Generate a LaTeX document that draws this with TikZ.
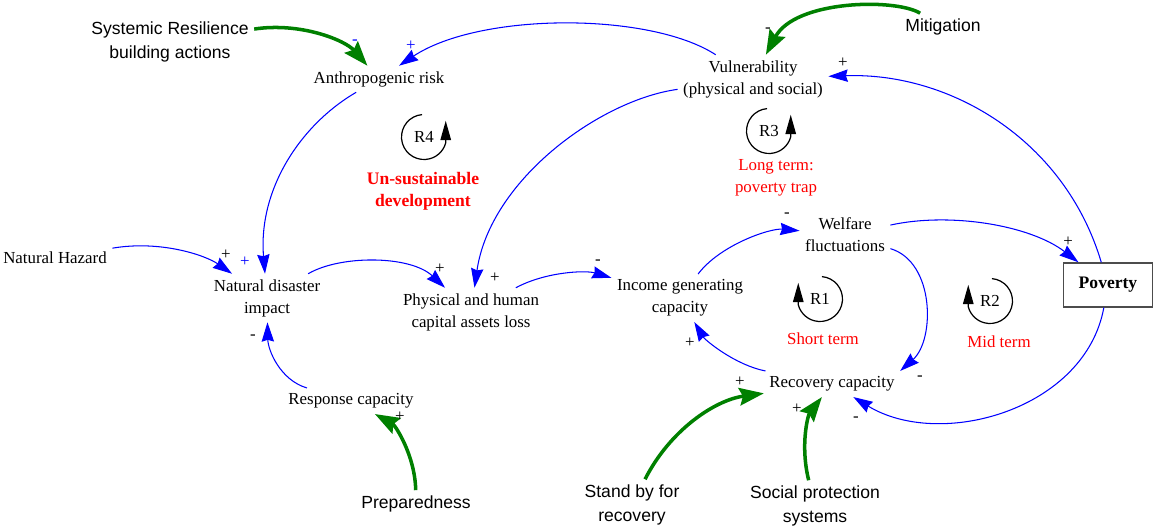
\documentclass[tikz,border=0pt]{standalone}
\usepackage{fontspec}
\setmainfont{Liberation Serif}
\newfontfamily\arialfont{Liberation Sans}
\usetikzlibrary{arrows.meta}

\tikzset{
  var/.style={align=center, inner sep=3pt, font=\fontsize{9.6}{12.5}\selectfont},
  act/.style={align=center, inner sep=3pt, font=\arialfont\fontsize{10}{13.6}\selectfont},
  lnk/.style={blue, line width=0.6pt, -{Stealth[length=11pt,width=7pt,inset=1pt]}},
  pol/.style={green!50!black, line width=2pt, -{Stealth[length=14pt,width=10pt,inset=2pt]}},
  sgn/.style={inner sep=0pt, font=\fontsize{9.6}{10}\selectfont},
  rlabel/.style={inner sep=0pt, font=\fontsize{9.6}{12}\selectfont},
  rturn/.style={line width=0.7pt, -{Triangle[length=11pt,width=6pt]}},
  capt/.style={red, align=center, font=\fontsize{9.6}{12.5}\selectfont},
}

\begin{document}
\begin{tikzpicture}[x=0.02cm, y=-0.02cm]
\useasboundingbox (0,0) rectangle (1154,529);

% variables
\node[act] (sys) at (170,42) {Systemic Resilience\\building actions};
\node[var] (anthro) at (379,79) {Anthropogenic risk};
\node[var] (vul) at (753,79) {Vulnerability\\(physical and social)};
\node[act] (miti) at (943,27) {Mitigation};
\node[var] (haz) at (55,258) {Natural Hazard};
\node[var] (ndi) at (267,298) {Natural disaster\\impact};
\node[var] (phys) at (471,312) {Physical and human\\capital assets loss};
\node[var] (inc) at (680,298) {Income generating\\capacity};
\node[var] (wel) at (845,235) {Welfare\\fluctuations};
\node[draw=black!70, line width=0.8pt, minimum width=1.78cm, minimum height=0.88cm,
      font=\bfseries\fontsize{10}{12}\selectfont] (pov) at (1108,285) {Poverty};
\node[var] (resp) at (351,401) {Response capacity};
\node[act] (prep) at (416,504) {Preparedness};
\node[var] (rec) at (832,384) {Recovery capacity};
\node[act] (stby) at (632,505) {Stand by for\\recovery};
\node[act] (soc) at (815,506) {Social protection\\systems};

% causal links
\draw[lnk] (vul) .. controls (650,12) and (480,12) .. (anthro);
\draw[lnk] (vul) .. controls (600,100) and (490,180) .. (phys);
\draw[lnk] (anthro) .. controls (300,125) and (258,190) .. (ndi);
\draw[lnk] (haz) .. controls (160,240) and (205,255) .. (ndi);
\draw[lnk] (ndi) .. controls (340,255) and (410,255) .. (phys);
\draw[lnk] (resp) .. controls (280,380) and (268,350) .. (ndi);
\draw[lnk] (phys) .. controls (545,272) and (585,270) .. (inc);
\draw[lnk] (inc) .. controls (720,245) and (770,228) .. (wel);
\draw[lnk] (wel) .. controls (950,212) and (1030,225) .. (pov);
\draw[lnk] (wel) .. controls (935,262) and (935,340) .. (rec.north east);
\draw[lnk] (pov) .. controls (1085,410) and (940,450) .. (rec);
\draw[lnk] (rec) .. controls (735,365) and (705,340) .. (inc);
\draw[lnk] (pov) .. controls (1065,140) and (950,72) .. (vul);

% policies
\draw[pol] (sys) .. controls (300,22) and (345,40) .. (anthro);
\draw[pol] (miti) .. controls (895,-2) and (795,0) .. (vul);
\draw[pol] (prep) .. controls (415,455) and (395,425) .. (resp);
\draw[pol] (stby) .. controls (670,430) and (715,400) .. (rec);
\draw[pol] (soc) .. controls (800,445) and (808,415) .. (rec);

% polarities
\foreach \n/\x/\y/\s/\c in {a/355/42/-/blue, b/411/46/+/blue, c/768/30/-/black,
    d/843/63/+/black, e/226/255/+/black, f/245/262/+/blue, g/440/269/+/black,
    h/495/278/+/black, i/253/337/-/black, j/400/417/+/black, k/598/262/-/black,
    l/787/215/-/black, m/1068/242/+/black, n/920/378/-/black, o/856/419/-/black,
    p/690/343/+/black, q/740/382/+/black, r/797/409/+/black}
  \node[sgn, text=\c] (sg\n) at (\x,\y) {\s};

% loops
\node[rlabel] (r4) at (424,137) {R4};
\draw[rturn] (r4.center) ++(95:0.45cm) arc[start angle=95, end angle=345, radius=0.45cm] -- ++(0,0.44cm);
\node[rlabel] (r3) at (769,131) {R3};
\draw[rturn] (r3.center) ++(95:0.45cm) arc[start angle=95, end angle=345, radius=0.45cm] -- ++(0,0.44cm);
\node[rlabel] (r1) at (820,299) {R1};
\draw[rturn] (r1.center) ++(85:0.45cm) arc[start angle=85, end angle=-165, radius=0.45cm] -- ++(0,0.44cm);
\node[rlabel] (r2) at (990,301) {R2};
\draw[rturn] (r2.center) ++(85:0.45cm) arc[start angle=85, end angle=-165, radius=0.45cm] -- ++(0,0.44cm);

\node[capt, font=\bfseries\fontsize{10}{12.5}\selectfont] (c4) at (423,191) {Un-sustainable\\development};
\node[capt] (c3) at (776,178) {Long term:\\poverty trap};
\node[capt] (c1) at (823,339) {Short term};
\node[capt] (c2) at (999,342) {Mid term};
\end{tikzpicture}
\end{document}
